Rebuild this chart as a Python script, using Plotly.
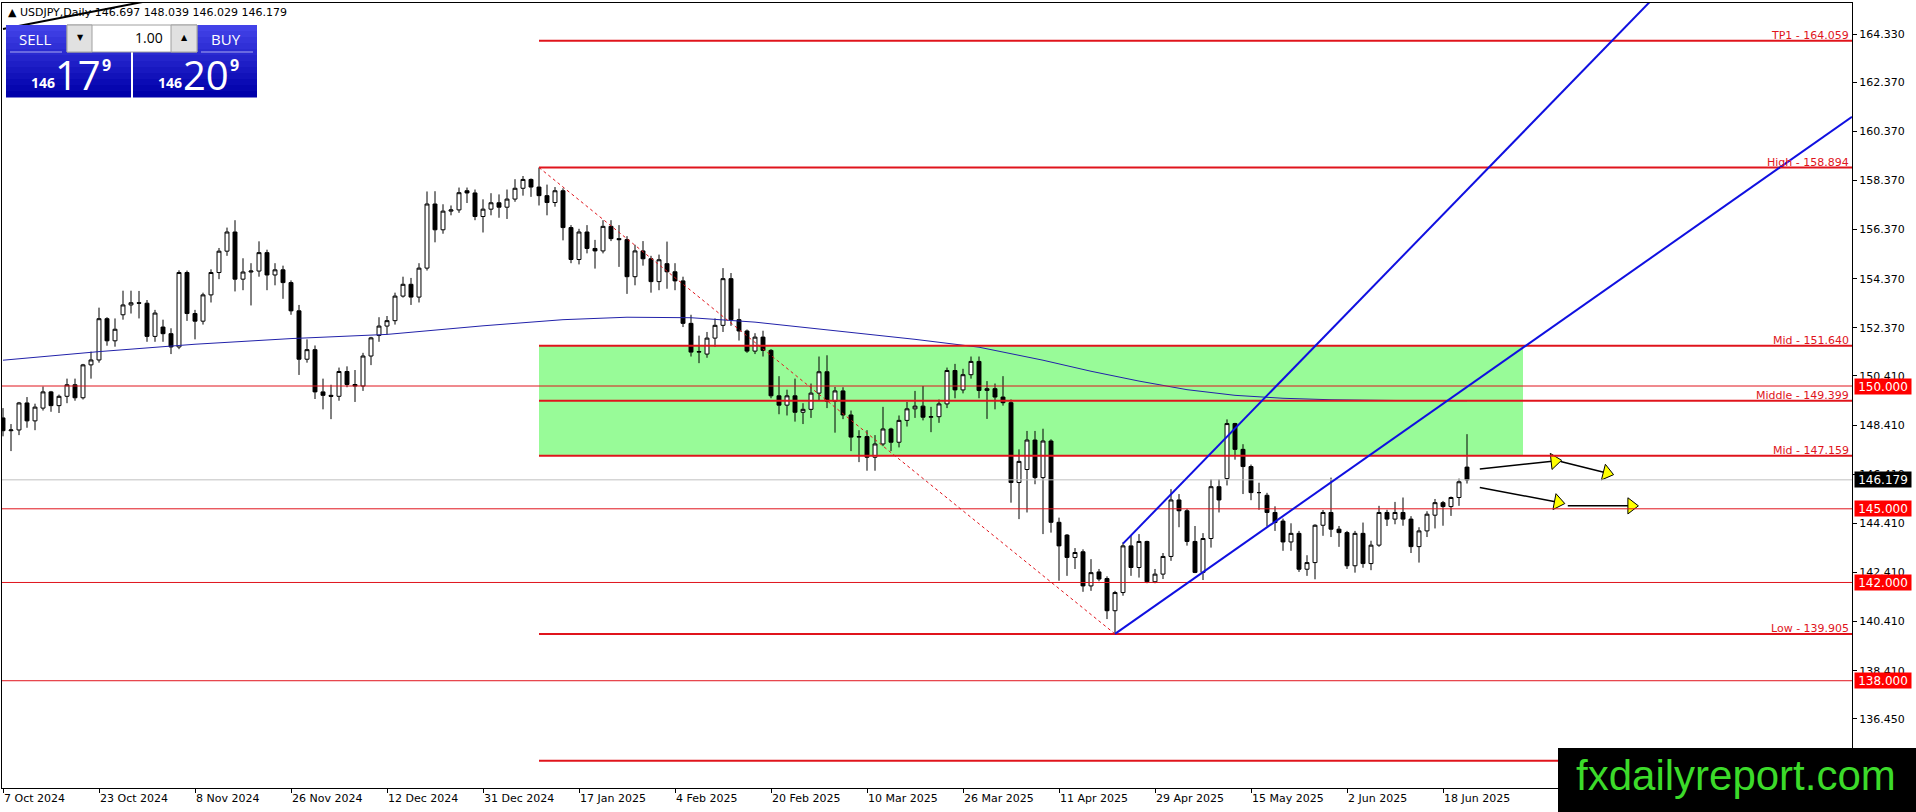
import math
import pandas as pd
import plotly.graph_objects as go

# ---------------- data ----------------
holidays = ['2024-12-25', '2025-01-01']
dates = [d.strftime('%Y-%m-%d') for d in pd.bdate_range('2024-10-07', '2025-06-23')
         if d.strftime('%Y-%m-%d') not in holidays]

opens = [148.70, 148.18, 148.21, 149.31, 148.58, 149.10, 149.76, 149.20, 149.58, 150.05,
         149.52, 150.86, 151.06, 152.74, 151.84, 152.90, 153.30, 153.39, 153.37, 152.02,
         152.40, 152.13, 151.59, 154.62, 152.95, 152.64, 153.71, 154.62, 155.49, 156.27,
         154.35, 154.64, 154.68, 155.43, 154.52, 154.73, 154.21, 153.06, 151.09, 151.48,
         149.76, 149.62, 149.58, 150.59, 150.06, 150.00, 151.22, 152.06, 152.44, 152.66,
         153.66, 154.14, 153.62, 154.80, 157.41, 156.36, 157.12, 157.17, 157.95, 157.86,
         156.90, 157.20, 157.46, 157.28, 157.61, 158.05, 158.41, 158.10, 157.75, 157.47,
         157.95, 156.45, 155.15, 156.27, 155.60, 155.50, 156.50, 156.00, 155.96, 154.45,
         155.50, 155.18, 154.25, 154.98, 154.65, 154.28, 152.55, 151.38, 151.30, 151.95,
         152.47, 154.37, 152.70, 152.24, 151.42, 151.99, 151.45, 149.60, 149.22, 149.60,
         148.93, 149.05, 149.71, 150.58, 149.38, 149.80, 148.82, 147.92, 147.94, 147.10,
         147.64, 148.25, 147.71, 148.60, 149.07, 149.18, 148.73, 148.75, 149.27, 150.63,
         149.84, 150.46, 151.00, 149.82, 149.89, 149.55, 149.32, 146.07, 146.60, 147.80,
         146.27, 147.76, 144.45, 143.93, 143.02, 143.25, 141.86, 142.43, 142.16, 140.85,
         141.59, 143.49, 142.61, 143.67, 142.03, 142.34, 143.06, 145.36, 144.92, 143.67,
         142.41, 143.79, 145.90, 146.23, 148.47, 147.42, 146.72, 145.66, 145.55, 144.85,
         144.50, 143.65, 144.00, 142.54, 142.81, 144.33, 144.85, 144.17, 144.03, 142.68,
         144.00, 142.77, 143.52, 144.85, 144.58, 144.85, 144.58, 143.46, 144.10, 144.74,
         145.25, 145.09, 145.46, 146.697]
highs = [149.10, 148.45, 149.35, 149.55, 149.28, 149.98, 149.80, 149.65, 150.30, 150.30,
         150.90, 151.40, 153.19, 152.80, 152.75, 153.88, 153.88, 153.87, 153.50, 153.10,
         152.70, 152.35, 154.71, 154.70, 153.10, 153.80, 154.75, 155.62, 156.45, 156.75,
         155.20, 155.00, 155.89, 155.55, 155.00, 154.90, 154.30, 153.30, 151.90, 151.65,
         150.30, 150.05, 150.75, 150.80, 150.65, 151.35, 152.00, 152.80, 152.85, 153.80,
         154.45, 154.40, 155.00, 157.92, 157.93, 157.40, 157.35, 158.08, 158.08, 158.00,
         157.60, 157.85, 157.80, 158.00, 158.42, 158.55, 158.45, 158.894, 158.20, 158.10,
         158.05, 156.55, 156.40, 156.55, 155.95, 156.75, 156.75, 156.55, 156.10, 155.75,
         155.90, 155.30, 155.35, 155.88, 155.00, 154.45, 152.90, 152.05, 152.20, 152.75,
         154.80, 154.60, 153.15, 152.30, 152.15, 152.25, 151.50, 150.40, 149.85, 150.30,
         149.30, 150.10, 151.20, 151.25, 149.96, 149.95, 149.00, 148.20, 148.20, 148.00,
         149.15, 148.30, 148.80, 149.35, 149.80, 150.00, 149.15, 149.45, 150.75, 150.90,
         150.70, 151.20, 151.20, 150.20, 150.10, 150.40, 149.45, 147.42, 148.17, 148.17,
         148.26, 147.83, 144.64, 143.97, 143.40, 143.35, 142.95, 142.55, 142.25, 141.66,
         143.63, 143.93, 143.97, 143.70, 142.55, 143.20, 145.80, 145.60, 145.00, 144.30,
         144.01, 146.20, 146.20, 148.64, 148.50, 147.63, 146.80, 146.06, 145.65, 145.10,
         144.60, 144.41, 144.10, 143.11, 144.37, 144.95, 146.27, 144.30, 144.10, 144.10,
         144.44, 143.70, 145.12, 144.96, 145.28, 145.46, 144.70, 144.25, 144.90, 145.40,
         145.32, 145.50, 146.23, 148.039]
lows = [147.95, 147.35, 148.00, 148.30, 148.20, 149.00, 148.95, 148.90, 149.30, 149.40,
        149.45, 150.30, 150.95, 151.64, 151.60, 152.70, 152.95, 152.75, 151.80, 151.80,
        151.80, 151.30, 151.50, 152.65, 151.90, 152.50, 153.40, 154.35, 155.30, 153.85,
        153.90, 153.28, 154.45, 153.90, 154.10, 153.55, 152.90, 150.45, 150.95, 149.47,
        149.05, 148.65, 149.40, 149.95, 149.35, 149.80, 150.85, 151.80, 152.10, 152.50,
        153.60, 153.30, 153.40, 154.70, 155.85, 156.20, 156.95, 157.05, 157.45, 156.75,
        156.25, 156.95, 156.85, 156.80, 157.50, 157.75, 157.70, 157.35, 156.95, 157.30,
        155.93, 155.00, 154.95, 155.40, 154.78, 155.40, 155.90, 154.85, 153.75, 154.10,
        154.90, 153.80, 153.90, 153.96, 153.90, 152.40, 151.20, 150.93, 151.15, 151.60,
        152.20, 152.45, 151.85, 151.35, 151.30, 151.20, 149.50, 148.85, 148.80, 148.55,
        148.45, 148.70, 149.40, 149.10, 148.10, 148.65, 147.35, 146.90, 146.55, 146.55,
        147.55, 147.35, 147.50, 148.35, 148.70, 148.60, 148.12, 148.50, 149.10, 149.50,
        149.70, 150.30, 149.50, 148.66, 149.05, 149.20, 145.25, 144.58, 144.85, 146.00,
        143.97, 144.03, 142.07, 142.27, 142.55, 141.62, 141.66, 142.05, 140.51, 139.905,
        141.46, 142.27, 142.20, 141.97, 141.97, 142.14, 142.88, 144.25, 143.50, 142.38,
        142.10, 143.42, 144.85, 145.95, 147.00, 145.60, 145.35, 144.96, 144.28, 144.10,
        143.29, 143.29, 142.43, 142.27, 142.13, 143.90, 143.85, 143.45, 142.55, 142.40,
        142.60, 142.50, 143.45, 144.30, 144.37, 144.31, 143.20, 142.81, 143.85, 144.20,
        144.31, 144.71, 145.12, 146.029]
closes = [148.18, 148.21, 149.31, 148.58, 149.14, 149.76, 149.20, 149.58, 150.05, 149.52,
          150.86, 151.06, 152.74, 151.84, 152.31, 153.30, 153.39, 153.37, 152.02, 152.97,
          152.13, 151.59, 154.62, 152.95, 152.64, 153.71, 154.62, 155.49, 156.27, 154.35,
          154.64, 154.68, 155.43, 154.52, 154.73, 154.21, 153.06, 151.09, 151.48, 149.76,
          149.62, 149.58, 150.59, 150.06, 150.00, 151.22, 151.96, 152.44, 152.66, 153.66,
          154.14, 153.62, 154.80, 157.41, 156.36, 157.12, 157.17, 157.87, 157.86, 156.90,
          157.20, 157.46, 157.28, 157.61, 158.05, 158.41, 158.10, 157.75, 157.47, 157.95,
          156.45, 155.15, 156.27, 155.60, 155.50, 156.50, 156.00, 155.96, 154.45, 155.50,
          155.18, 154.25, 155.14, 154.65, 154.28, 152.55, 151.38, 151.40, 151.95, 152.47,
          154.37, 152.70, 152.24, 151.42, 151.99, 151.45, 149.60, 149.22, 149.60, 148.93,
          149.05, 149.71, 150.58, 149.38, 149.80, 148.82, 147.92, 147.94, 147.10, 147.64,
          148.25, 147.71, 148.60, 149.07, 149.18, 148.73, 148.75, 149.27, 150.63, 149.84,
          150.46, 151.00, 149.82, 149.89, 149.55, 149.32, 146.07, 146.93, 147.80, 146.27,
          147.76, 144.45, 143.49, 143.02, 143.22, 141.86, 142.40, 142.14, 140.85, 141.59,
          143.49, 142.61, 143.67, 142.03, 142.34, 143.06, 145.36, 144.92, 143.67, 142.41,
          143.79, 145.90, 145.36, 148.47, 147.42, 146.72, 145.66, 145.66, 144.85, 144.44,
          143.65, 144.00, 142.54, 142.81, 144.33, 144.85, 144.17, 144.03, 142.68, 144.00,
          142.77, 143.52, 144.85, 144.58, 144.85, 144.58, 143.46, 144.10, 144.78, 145.25,
          145.09, 145.46, 146.10, 146.179]

# moving average at sample bars
ma_bars = [0, 12, 24, 36, 48, 60, 70, 78, 86, 94, 104, 114, 122, 130, 136, 142, 148, 154, 160, 166, 174, 183]
ma_values = [151.05, 151.40, 151.70, 151.93, 152.10, 152.45, 152.70, 152.80, 152.78, 152.60, 152.25,
             151.90, 151.58, 151.05, 150.60, 150.20, 149.85, 149.62, 149.50, 149.44, 149.41, 149.40]

tick_dates = ['2024-10-07', '2024-10-23', '2024-11-08', '2024-11-26', '2024-12-12', '2024-12-31',
              '2025-01-17', '2025-02-04', '2025-02-20', '2025-03-10', '2025-03-26', '2025-04-11',
              '2025-04-29', '2025-05-15', '2025-06-02', '2025-06-18']
tick_labels = ['7 Oct 2024', '23 Oct 2024', '8 Nov 2024', '26 Nov 2024', '12 Dec 2024', '31 Dec 2024',
               '17 Jan 2025', '4 Feb 2025', '20 Feb 2025', '10 Mar 2025', '26 Mar 2025', '11 Apr 2025',
               '29 Apr 2025', '15 May 2025', '2 Jun 2025', '18 Jun 2025']
price_ticks = [164.330, 162.370, 160.370, 158.370, 156.370, 154.370, 152.370, 150.410,
               148.410, 146.410, 144.410, 142.410, 140.410, 138.410, 136.450]
price_tick_labels = ['164.330', '162.370', '160.370', '158.370', '156.370', '154.370', '152.370', '150.410',
                     '148.410', '146.410', '144.410', '142.410', '140.410', '138.410', '136.450']

fib_names = ['TP1', 'High', 'Mid', 'Middle', 'Mid', 'Low', '']
fib_values = [164.059, 158.894, 151.640, 149.399, 147.159, 139.905, 134.740]
fib_start_bar = 67
zone_end_bar = 190
zone_top, zone_bottom = 151.640, 147.159
hlines = [150.000, 145.000, 142.000, 138.000]
last_price = 146.179

trend_a = [(139, 139.905), (231.125, 160.96)]
trend_b = [(140, 143.58), (206, 165.69)]
swing_line = [(67, 158.894), (139, 139.905)]
corner_line = [(0, 164.535), (18, 165.67)]
arrows = [((184.6, 146.62), (194.7, 146.97)), ((194.7, 146.93), (201.2, 146.40)),
          ((184.6, 145.87), (195.1, 145.22)), ((195.6, 145.12), (204.3, 145.12))]

# ---------------- layout geometry ----------------
W, H = 1916, 812
ML, MR, MT, MB = 2, 64, 3, 24
PW, PH = W - ML - MR, H - MT - MB
XR = [-0.125, 231.125]
YR = [133.632, 165.594]
PX_PER_BAR = PW / (XR[1] - XR[0])
PX_PER_UNIT = PH / (YR[1] - YR[0])


def pxx(p):
    return (p - ML) / PW


def pxy(p):
    return 1 - (p - MT) / PH


RED = '#E0141C'
FONT = 'DejaVu Sans'

x = list(range(len(dates)))
fig = go.Figure()

fig.add_trace(go.Candlestick(
    x=x, open=opens, high=highs, low=lows, close=closes, text=dates,
    increasing=dict(line=dict(color='black', width=1), fillcolor='white'),
    decreasing=dict(line=dict(color='black', width=1), fillcolor='black'),
    whiskerwidth=0, showlegend=False, name='USDJPY'))

fig.add_trace(go.Scatter(x=ma_bars, y=ma_values, mode='lines',
                         line=dict(color='#2222AA', width=1), hoverinfo='skip', showlegend=False))

shapes = []
# green zone
shapes.append(dict(type='rect', xref='x', yref='y', x0=fib_start_bar, x1=zone_end_bar,
                   y0=zone_bottom, y1=zone_top, fillcolor='#98FB98', line=dict(width=0), layer='below'))
# full-width thin lines
for v in hlines:
    shapes.append(dict(type='line', xref='paper', yref='y', x0=0, x1=1, y0=v, y1=v,
                       line=dict(color=RED, width=1), layer='above'))
shapes.append(dict(type='line', xref='paper', yref='y', x0=0, x1=1, y0=last_price, y1=last_price,
                   line=dict(color='#C0C0C0', width=1), layer='above'))
# fibo lines
for v in fib_values:
    shapes.append(dict(type='line', xref='x', yref='y', x0=fib_start_bar, x1=XR[1], y0=v, y1=v,
                       line=dict(color=RED, width=2), layer='above'))
# dotted swing line
shapes.append(dict(type='line', xref='x', yref='y', x0=swing_line[0][0], y0=swing_line[0][1],
                   x1=swing_line[1][0], y1=swing_line[1][1], line=dict(color=RED, width=1, dash='dot'),
                   layer='above'))
# trend lines
for seg in (trend_a, trend_b):
    shapes.append(dict(type='line', xref='x', yref='y', x0=seg[0][0], y0=seg[0][1], x1=seg[1][0],
                       y1=seg[1][1], line=dict(color='#1010E0', width=2), layer='above'))
shapes.append(dict(type='line', xref='x', yref='y', x0=corner_line[0][0], y0=corner_line[0][1],
                   x1=corner_line[1][0], y1=corner_line[1][1], line=dict(color='black', width=2),
                   layer='above'))

# arrows (lines + yellow heads)
head_x, head_y, head_a = [], [], []
for (x0, y0), (x1, y1) in arrows:
    dx = (x1 - x0) * PX_PER_BAR
    dy = -(y1 - y0) * PX_PER_UNIT
    ln = math.hypot(dx, dy)
    ux, uy = dx / ln, dy / ln
    cx = x1 - 6 * ux / PX_PER_BAR
    cy = y1 + 6 * uy / PX_PER_UNIT
    fig.add_trace(go.Scatter(x=[x0, cx], y=[y0, cy], mode='lines', line=dict(color='black', width=1.5),
                             hoverinfo='skip', showlegend=False))
    head_x.append(cx)
    head_y.append(cy)
    head_a.append(math.degrees(math.atan2(dy, dx)))
fig.add_trace(go.Scatter(x=head_x, y=head_y, mode='markers', hoverinfo='skip', showlegend=False,
                         marker=dict(symbol='triangle-right', size=14, angle=head_a, color='#FFFF00',
                                     line=dict(color='black', width=1))))

annotations = []
for name, v in zip(fib_names, fib_values):
    if name:
        annotations.append(dict(xref='paper', yref='y', x=1, y=v, xanchor='right', yanchor='bottom',
                                text=f'{name} - {v:.3f}', showarrow=False, xshift=-1, yshift=-3,
                                font=dict(family=FONT, size=11, color=RED)))
for v in hlines:
    annotations.append(dict(xref='paper', yref='y', x=1, y=v, xanchor='left', yanchor='middle',
                            text=f'{v:.3f}', showarrow=False, xshift=2, bgcolor='#FF0000', borderpad=0,
                            width=56, height=15, align='center',
                            font=dict(family=FONT, size=12, color='white')))
annotations.append(dict(xref='paper', yref='y', x=1, y=last_price, xanchor='left', yanchor='middle',
                        text=f'{last_price:.3f}', showarrow=False, xshift=2, bgcolor='black', borderpad=0,
                        width=56, height=15, align='center',
                        font=dict(family=FONT, size=12, color='white')))

# ---- top-left header + trade panel ----
annotations.append(dict(xref='paper', yref='paper', x=pxx(6), y=pxy(13), xanchor='left', yanchor='middle',
                        text=f'▲ USDJPY,Daily {opens[-1]:.3f} {highs[-1]:.3f} {lows[-1]:.3f} {closes[-1]:.3f}',
                        showarrow=False, font=dict(family=FONT, size=11, color='black')))


def rect_px(x0, y0, x1, y1, color, line=None):
    d = dict(type='rect', xref='paper', yref='paper', x0=pxx(x0), x1=pxx(x1), y0=pxy(y1), y1=pxy(y0),
             fillcolor=color, layer='above', line=dict(width=0))
    if line:
        d['line'] = dict(color=line, width=1)
    return d


n_strip = 12
for bx0, bx1 in ((6, 131), (133, 257)):
    for k in range(n_strip):
        t = k / (n_strip - 1)
        r = int(66 * (1 - t))
        g = int(66 * (1 - t))
        b = int(232 - 62 * t)
        ya = 25 + (97 - 25) * k / n_strip
        yb = 25 + (97 - 25) * (k + 1) / n_strip + 0.6
        shapes.append(rect_px(bx0, ya, bx1, yb, f'rgb({r},{g},{b})'))
shapes.append(rect_px(67, 25, 197, 52, 'white', line='#A0A0A0'))
shapes.append(rect_px(67, 25, 92, 52, '#E1E1E1', line='#A0A0A0'))
shapes.append(rect_px(171, 25, 197, 52, '#E1E1E1', line='#A0A0A0'))
for lx0, lx1 in ((10, 62), (201, 253)):
    shapes.append(dict(type='line', xref='paper', yref='paper', x0=pxx(lx0), x1=pxx(lx1), y0=pxy(52),
                       y1=pxy(52), line=dict(color='#A8A8F0', width=1), layer='above'))

PANEL_FONT = 'Open Sans'


def txt(xp, yp, s, size, color='white', anchor='center', bold=False, family=PANEL_FONT):
    annotations.append(dict(xref='paper', yref='paper', x=pxx(xp), y=pxy(yp), xanchor=anchor,
                            yanchor='middle', text=f'<b>{s}</b>' if bold else s, showarrow=False,
                            font=dict(family=family, size=size, color=color)))


txt(35, 39, 'SELL', 15)
txt(226, 39, 'BUY', 15)
txt(165, 38, '1.00', 14, color='black', anchor='right')
txt(80, 38, '▼', 8, color='black', family=FONT)
txt(184, 38, '▲', 8, color='black', family=FONT)
txt(43, 83, '146', 14, bold=True)
txt(78, 75, '17', 40)
txt(106, 65, '9', 16, bold=True)
txt(170, 83, '146', 14, bold=True)
txt(206, 75, '20', 40)
txt(235, 65, '9', 16, bold=True)

# ---- watermark banner ----
shapes.append(dict(type='rect', xref='paper', yref='paper', x0=pxx(1558), x1=pxx(1916 + 2),
                   y0=pxy(812 + 2), y1=pxy(748), fillcolor='black', line=dict(width=0), layer='above'))
annotations.append(dict(xref='paper', yref='paper', x=pxx(1736), y=pxy(775), xanchor='center',
                        yanchor='middle', text='fxdailyreport.com', showarrow=False,
                        font=dict(family='Liberation Sans', size=42, color='#3CDB2A')))

tickvals = [dates.index(d) for d in tick_dates]

fig.update_layout(
    width=W, height=H, margin=dict(l=ML, r=MR, t=MT, b=MB, autoexpand=False),
    paper_bgcolor='white', plot_bgcolor='white', showlegend=False,
    shapes=shapes, annotations=annotations, hovermode='closest',
    font=dict(family=FONT, size=11, color='black'),
    xaxis=dict(range=XR, rangeslider=dict(visible=False), showgrid=False, zeroline=False,
               tickmode='array', tickvals=tickvals, ticktext=tick_labels, ticks='outside', ticklen=4,
               tickcolor='black', ticklabelposition='outside right', showline=True, linecolor='black',
               linewidth=1, mirror=True, tickfont=dict(family=FONT, size=11, color='black')),
    yaxis=dict(range=YR, side='right', showgrid=False, zeroline=False, tickmode='array',
               tickvals=price_ticks, ticktext=price_tick_labels, ticks='outside', ticklen=4,
               tickcolor='black', showline=True, linecolor='black', linewidth=1, mirror=True,
               tickfont=dict(family=FONT, size=11, color='black')),
)

fig.write_html('out.html', include_plotlyjs=True, config={'displayModeBar': False},
               post_script="document.body.style.margin='0px';document.body.style.overflow='hidden';")
